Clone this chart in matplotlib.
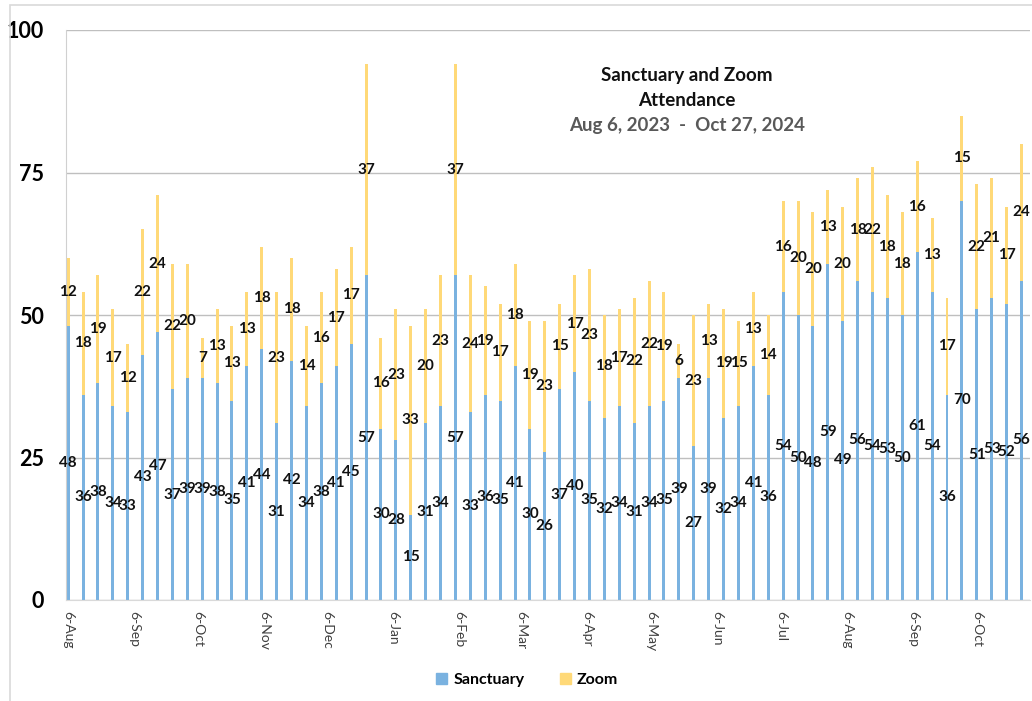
import numpy as np
import pandas as pd
import matplotlib
matplotlib.use("Agg")
from matplotlib import pyplot as plt
import matplotlib.dates as mdates
from matplotlib.patches import Rectangle, Patch

plt.rcParams['font.family'] = ['Lato', 'DejaVu Sans']

# weekly Sundays, Aug 6 2023 .. Oct 27 2024
weeks = pd.date_range("2023-08-06", "2024-10-27", freq="7D")

sanctuary = [48, 36, 38, 34, 33, 43, 47, 37, 39, 39, 38, 35, 41, 44, 31, 42, 34, 38, 41, 45,
             57, 30, 28, 15, 31, 34, 57, 33, 36, 35, 41, 30, 26, 37, 40, 35, 32, 34, 31, 34,
             35, 39, 27, 39, 32, 34, 41, 36, 54, 50, 48, 59, 49, 56, 54, 53, 50, 61, 54, 36,
             70, 51, 53, 52, 56]
zoom = [12, 18, 19, 17, 12, 22, 24, 22, 20, 7, 13, 13, 13, 18, 23, 18, 14, 16, 17, 17,
        37, 16, 23, 33, 20, 23, 37, 24, 19, 17, 18, 19, 23, 15, 17, 23, 18, 17, 22, 22,
        19, 6, 23, 13, 19, 15, 13, 14, 16, 20, 20, 13, 20, 18, 22, 18, 18, 16, 13, 17,
        15, 22, 21, 17, 24]

blue = "#7AB2E0"
gold = "#FFD978"

fig = plt.figure(figsize=(10.32, 7.01), dpi=100)
ax = fig.add_axes([66/1032, 101/701, 964/1032, 570/701])

# outer chart border
fig.patches.append(Rectangle((10/1032, -0.05), 1.1, (701-5)/701 + 0.05, transform=fig.transFigure,
                             fill=False, edgecolor="#d9d9d9", linewidth=1.2))

b1 = ax.bar(weeks, sanctuary, width=1.4, color=blue)
b2 = ax.bar(weeks, zoom, bottom=sanctuary, width=1.4, color=gold)
ax.bar_label(b1, label_type='center', fontsize=11, fontweight='bold', color='#111111')
ax.bar_label(b2, label_type='center', fontsize=11, fontweight='bold', color='#111111')

ax.set_ylim(0, 100)
ax.set_yticks([0, 25, 50, 75, 100])
ax.set_xlim(pd.Timestamp("2023-08-05"), pd.Timestamp("2024-10-31"))
ax.grid(axis='y', color='#bfbfbf', linewidth=1)
ax.set_axisbelow(True)
for s in ['top', 'right']:
    ax.spines[s].set_visible(False)
ax.spines['left'].set_color('#d0d0d0')
ax.spines['bottom'].set_color('#d9d9d9')

ax.tick_params(axis='y', length=0, pad=16, labelsize=15.5)
for t in ax.get_yticklabels():
    t.set_fontweight('bold')

ax.xaxis.set_major_locator(mdates.MonthLocator(bymonthday=6))
ax.xaxis.set_major_formatter(plt.FuncFormatter(
    lambda v, p: f"{mdates.num2date(v).day}-{mdates.num2date(v).strftime('%b')}"))
ax.tick_params(axis='x', length=0, pad=8, labelsize=10, labelcolor='#404040', labelrotation=270)

fig.text(687/1032, 1 - 76/701, "Sanctuary and Zoom", ha='center', va='center',
         fontsize=13.5, fontweight='bold', color='#111111')
fig.text(687/1032, 1 - 100/701, "Attendance", ha='center', va='center',
         fontsize=13.5, fontweight='bold', color='#111111')
fig.text(687/1032, 1 - 125/701, "Aug 6, 2023  -  Oct 27, 2024", ha='center', va='center',
         fontsize=13.5, fontweight='bold', color='#595959')

handles = [Patch(color=blue, label='Sanctuary'), Patch(color=gold, label='Zoom')]
fig.legend(handles=handles, loc='center', bbox_to_anchor=(527/1032, 1 - 680/701), ncol=2,
           frameon=False, handlelength=0.7, handleheight=0.7, handletextpad=0.4,
           columnspacing=2.2, prop={'weight': 'bold', 'size': 11.5})

fig.savefig("out.png", dpi=100)
